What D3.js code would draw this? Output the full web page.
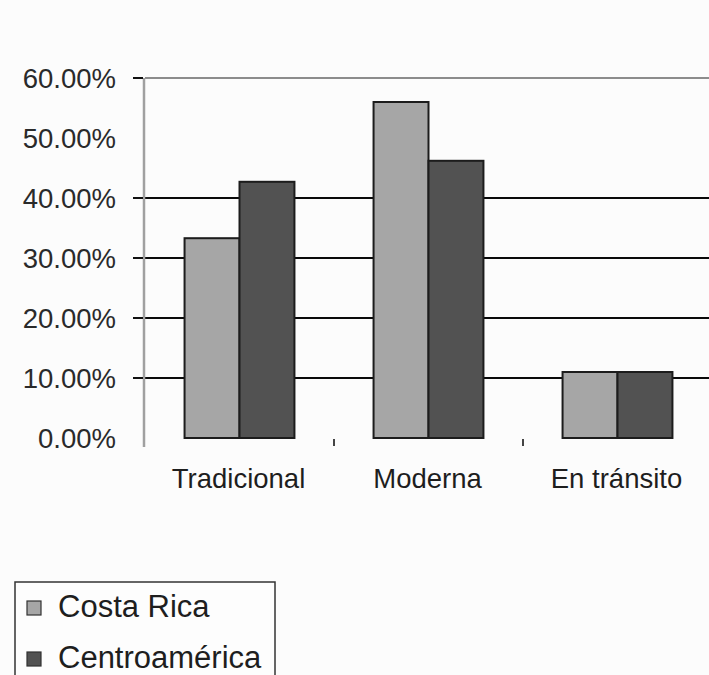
<!DOCTYPE html>
<html>
<head>
<meta charset="utf-8">
<script src="https://cdn.jsdelivr.net/npm/d3@7"></script>
<style>
  html, body { margin: 0; padding: 0; background: #fcfcfc; }
  svg { display: block; }
  text { font-family: "Liberation Sans", Arial, sans-serif; fill: #1e1e1e; }
</style>
</head>
<body>
<script>
// Categories, series and values
const categories = ["Tradicional", "Moderna", "En tránsito"];
const seriesNames = ["Costa Rica", "Centroamérica"];
const costaRica = [0.333, 0.56, 0.11];
const centroamerica = [0.427, 0.462, 0.11];
const yTickValues = [0, 0.1, 0.2, 0.3, 0.4, 0.5, 0.6];
const yTickLabels = ["0.00%", "10.00%", "20.00%", "30.00%", "40.00%", "50.00%", "60.00%"];
const gridValues = [0.1, 0.2, 0.3, 0.4];
const tickMarkValues = [0.1, 0.2, 0.3, 0.4, 0.6];
const seriesColors = ["#a6a6a6", "#525252"];

const W = 709, H = 675;
const svg = d3.select("body").append("svg").attr("width", W).attr("height", H);
svg.append("rect").attr("width", W).attr("height", H).attr("fill", "#fcfcfc");

const plot = { left: 145, right: 712, top: 78, bottom: 438 };

const y = d3.scaleLinear().domain([0, 0.6]).range([plot.bottom, plot.top]);
const x0 = d3.scaleBand().domain(categories).range([plot.left, plot.right]).padding(0);
const x1 = d3.scaleBand().domain(seriesNames).range([0, x0.bandwidth()])
  .paddingInner(0).paddingOuter(0.72);

const rows = categories.map((c, i) => ({
  cat: c,
  vals: [
    { s: seriesNames[0], v: costaRica[i] },
    { s: seriesNames[1], v: centroamerica[i] }
  ]
}));

// Horizontal gridlines
svg.append("g").selectAll("line").data(gridValues).join("line")
  .attr("x1", plot.left).attr("x2", W)
  .attr("y1", d => y(d)).attr("y2", d => y(d))
  .attr("stroke", "#0a0a0a").attr("stroke-width", 2.2);

// Top border of the plot area
svg.append("line")
  .attr("x1", plot.left).attr("x2", W)
  .attr("y1", y(0.6)).attr("y2", y(0.6))
  .attr("stroke", "#8c8c8c").attr("stroke-width", 2);

// Bars
const groups = svg.append("g").selectAll("g").data(rows).join("g")
  .attr("transform", d => `translate(${x0(d.cat)},0)`);
groups.selectAll("rect").data(d => d.vals).join("rect")
  .attr("x", d => x1(d.s))
  .attr("y", d => y(d.v))
  .attr("width", x1.bandwidth())
  .attr("height", d => y(0) - y(d.v))
  .attr("fill", (d, i) => seriesColors[i])
  .attr("stroke", "#1c1c1c")
  .attr("stroke-width", 2);

// Y axis line
svg.append("line")
  .attr("x1", plot.left - 1).attr("x2", plot.left - 1)
  .attr("y1", plot.top).attr("y2", plot.bottom + 9)
  .attr("stroke", "#a0a0a0").attr("stroke-width", 2.5);

// Y tick marks
svg.append("g").selectAll("line").data(tickMarkValues).join("line")
  .attr("x1", 133).attr("x2", plot.left - 2)
  .attr("y1", d => y(d)).attr("y2", d => y(d))
  .attr("stroke", "#111").attr("stroke-width", 2);

// Y tick labels
svg.append("g").selectAll("text").data(yTickValues).join("text")
  .attr("x", 116)
  .attr("y", d => y(d) + 10)
  .attr("text-anchor", "end")
  .style("font-size", "27.5px")
  .style("fill", "#2a2a2a")
  .text((d, i) => yTickLabels[i]);

// Category separators on the x axis
svg.append("g").selectAll("line").data(categories.slice(1)).join("line")
  .attr("x1", d => x0(d)).attr("x2", d => x0(d))
  .attr("y1", plot.bottom + 1).attr("y2", plot.bottom + 8)
  .attr("stroke", "#444").attr("stroke-width", 2);

// Category labels
svg.append("g").selectAll("text").data(categories).join("text")
  .attr("x", d => x0(d) + x0.bandwidth() / 2 - 1)
  .attr("y", 488)
  .attr("text-anchor", "middle")
  .style("font-size", "27.5px")
  .text(d => d);

// Legend (its box runs past the bottom edge of the page)
const legend = svg.append("g");
legend.append("rect")
  .attr("x", 15).attr("y", 582).attr("width", 260).attr("height", 110)
  .attr("fill", "#fdfdfd").attr("stroke", "#333").attr("stroke-width", 1.5);
const items = legend.selectAll("g").data(seriesNames).join("g")
  .attr("transform", (d, i) => `translate(0, ${i * 51})`);
items.append("rect")
  .attr("x", 27).attr("y", 601).attr("width", 14).attr("height", 14)
  .attr("fill", (d, i) => seriesColors[i])
  .attr("stroke", "#333").attr("stroke-width", 1.2);
items.append("text")
  .attr("x", 58).attr("y", 617)
  .style("font-size", "31px")
  .text(d => d);
</script>
</body>
</html>
